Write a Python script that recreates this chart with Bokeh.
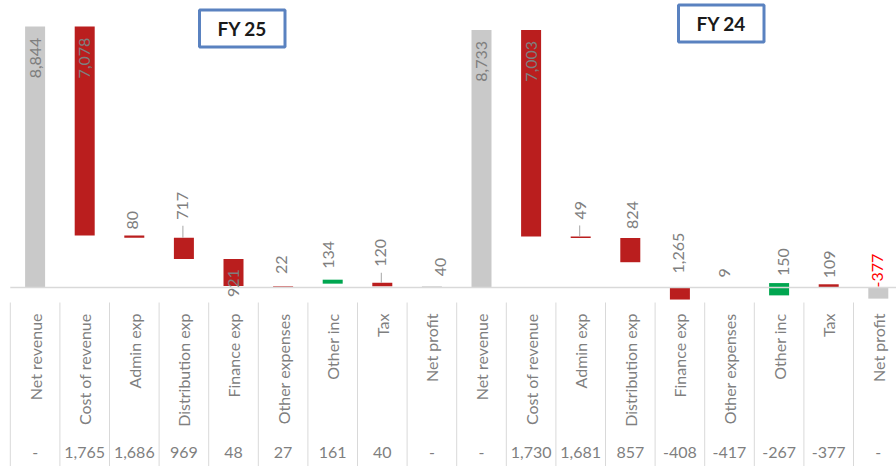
import math
from bokeh.plotting import figure
from bokeh.models import ColumnDataSource, LabelSet, Range1d
from bokeh.core.properties import value
from bokeh.embed import file_html
from bokeh.resources import INLINE

# ---------------- data ----------------
periods = ["FY 25", "FY 24"]
categories = ["Net revenue", "Cost of revenue", "Admin exp", "Distribution exp",
              "Finance exp", "Other expenses", "Other inc", "Tax", "Net profit"]
all_categories = categories + categories
values = [8844, 7078, 80, 717, 921, 22, 134, 120, 40,
          8733, 7003, 49, 824, 1265, 9, 150, 109, -377]
running_total = [None, 1765, 1686, 969, 48, 27, 161, 40, None,
                 None, 1730, 1681, 857, -408, -417, -267, -377, None]
bar_low = [0, 1765, 1686, 969, 48, 27, 130, 40, 0,
           0, 1730, 1681, 857, -408, 0, -267, 0, -377]
bar_high = [8844, 8844, 1765, 1686, 969, 48, 265, 161, 40,
            8733, 8733, 1730, 1681, 0, 0, 150, 109, 0]
kind = ["total", "down", "down", "down", "down", "down", "up", "down", "total",
        "total", "down", "down", "down", "down", "down", "up", "down", "total"]

# ---------------- styles ----------------
COLORS = {"total": "#C9C9C9", "down": "#BA1E1E", "up": "#00A650"}
TXT = "#7F7F7F"
GRID = "#D9D9D9"
FONT = "Lato"
FS = "16px"

label_mode = ["in", "in", "out", "out", "below", "out", "out", "out", "out",
              "in", "in", "out", "out", "out", "out", "out", "out", "out"]
label_gap = [11, 11, 6, 18, 11, 12, 11, 16, 10,
             11, 11, 17, 9, 14, 10, 7, 6, 0]
label_dx = [0, 0, -2, -1, 0, -2, -4, -2, 9,
            0, 0, 0, 2, -1, -5, 4, 1, -1]
leaders = [3, 7, 11]

W, H = 896, 466
# pixel helpers for layout (canvas pixels -> data)
U = 33.9
BASE_PX = 287.0
X0_PX = 34.6
PITCH = 49.6


def ypx(py):
    return (BASE_PX - py) * U


def xpx(px):
    return (px - X0_PX) / PITCH


n = len(all_categories)
xs = list(range(n))

p = figure(width=W, height=H, output_backend="svg", toolbar_location=None,
           x_axis_location=None, y_axis_location=None, min_border=0,
           x_range=Range1d(xpx(0), xpx(W)), y_range=Range1d(ypx(H), ypx(0)))
p.grid.visible = False
p.outline_line_color = None
p.background_fill_color = "white"

# bars
bar_src = ColumnDataSource(dict(x=xs, low=bar_low, high=bar_high,
                                color=[COLORS[k] for k in kind]))
p.vbar(x="x", width=20 / PITCH, bottom="low", top="high", fill_color="color",
       line_color=None, source=bar_src)

# baseline axis line
p.segment(x0=[-0.5], y0=[0], x1=[n - 0.5], y1=[0], line_color=GRID, line_width=1.5)

# separators in category table
sep_x = [i - 0.5 for i in range(n + 1)]
p.segment(x0=sep_x, y0=[ypx(302)] * len(sep_x), x1=sep_x, y1=[ypx(H)] * len(sep_x),
          line_color=GRID, line_width=1)

# data labels
lab_y, lab_off, lab_align, lab_color = [], [], [], []
for i in range(n):
    if label_mode[i] == "in":
        lab_y.append(bar_high[i]); lab_off.append(-label_gap[i]); lab_align.append("right")
    elif label_mode[i] == "below":
        lab_y.append(bar_low[i]); lab_off.append(-label_gap[i]); lab_align.append("left")
    else:
        lab_y.append(bar_high[i]); lab_off.append(label_gap[i]); lab_align.append("left")
    lab_color.append("#FF0000" if values[i] < 0 else TXT)

lab_text = [f"{v:,}" for v in values]
for al in ("right", "left"):
    idx = [i for i in range(n) if lab_align[i] == al]
    src = ColumnDataSource(dict(
        x=[xs[i] for i in idx], y=[lab_y[i] for i in idx],
        t=[lab_text[i] for i in idx], dy=[lab_off[i] for i in idx],
        dx=[label_dx[i] for i in idx], c=[lab_color[i] for i in idx]))
    p.add_layout(LabelSet(x="x", y="y", text="t", source=src, angle=math.pi / 2,
                          x_offset="dx", y_offset="dy", text_align=al,
                          text_baseline="middle", text_color="c",
                          text_font=value(FONT), text_font_size=FS))

# leader lines
lx = [xs[i] - 1 / PITCH for i in leaders]
ly0 = [bar_high[i] for i in leaders]
ly1 = [bar_high[i] + (label_gap[i] - 6) * U for i in leaders]
p.segment(x0=lx, y0=ly0, x1=lx, y1=ly1, line_color="#A6A6A6", line_width=1)

# category labels (rotated)
cat_src = ColumnDataSource(dict(x=xs, y=[ypx(313)] * n, t=all_categories))
p.add_layout(LabelSet(x="x", y="y", text="t", source=cat_src, angle=math.pi / 2,
                      text_align="right", text_baseline="middle", text_color=TXT,
                      text_font=value(FONT), text_font_size=FS))

# running totals row
rt_src = ColumnDataSource(dict(x=xs, y=[ypx(452)] * n,
                               t=["-" if v is None else f"{v:,}" for v in running_total]))
p.add_layout(LabelSet(x="x", y="y", text="t", source=rt_src, text_align="center",
                      text_baseline="middle", text_color=TXT,
                      text_font=value(FONT), text_font_size=FS))

# period boxes
box_left = [xpx(199), xpx(678)]
box_right = [xpx(284.5), xpx(763.5)]
box_top = [ypx(9.5), ypx(4.5)]
box_bottom = [ypx(46.5), ypx(41.5)]
p.quad(left=box_left, right=box_right, top=box_top, bottom=box_bottom,
       fill_color="white", line_color="#5A82C0", line_width=3)
per_src = ColumnDataSource(dict(x=[(a + b) / 2 for a, b in zip(box_left, box_right)],
                                y=[(a + b) / 2 for a, b in zip(box_top, box_bottom)],
                                t=periods))
p.add_layout(LabelSet(x="x", y="y", text="t", source=per_src, text_align="center",
                      text_baseline="middle", text_color="#1A1A1A",
                      text_font=value(FONT), text_font_style="bold",
                      text_font_size="19px"))

open("out.html", "w").write(file_html(p, INLINE))
